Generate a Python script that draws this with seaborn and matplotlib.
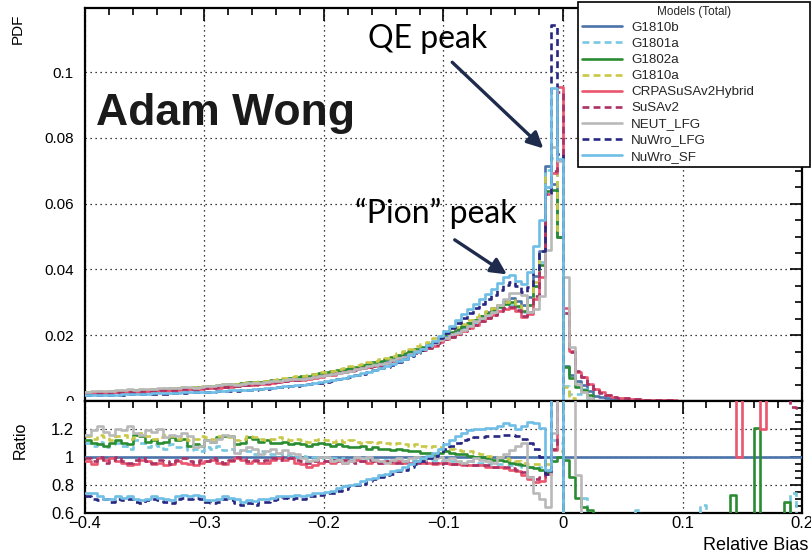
import numpy as np
import pandas as pd
import matplotlib
matplotlib.use("Agg")
import matplotlib.pyplot as plt
from matplotlib.lines import Line2D
from matplotlib.patches import Rectangle
from matplotlib.ticker import MultipleLocator, FixedLocator, FuncFormatter
import seaborn as sns

sns.set_theme(style="white")
plt.rcParams["font.family"] = ["Liberation Sans", "DejaVu Sans"]
plt.rcParams["axes.unicode_minus"] = True

# Histogram binning of the relative bias
BIAS_MIN, BIAS_MAX, BIN_WIDTH = -0.4, 0.2, 0.005

MODELS = ["G1810b", "G1801a", "G1802a", "G1810a", "CRPASuSAv2Hybrid",
          "SuSAv2", "NEUT_LFG", "NuWro_LFG", "NuWro_SF"]
COLORS = {"G1810b": "#4b73aa", "G1801a": "#78c8e1", "G1802a": "#2a8c32",
          "G1810a": "#c8c846", "CRPASuSAv2Hybrid": "#eb556e", "SuSAv2": "#aa3264",
          "NEUT_LFG": "#b9b9b9", "NuWro_LFG": "#282882", "NuWro_SF": "#6ebee6"}
DASHED = {"G1810b": False, "G1801a": True, "G1802a": False, "G1810a": True,
          "CRPASuSAv2Hybrid": False, "SuSAv2": True, "NEUT_LFG": False,
          "NuWro_LFG": True, "NuWro_SF": False}

# PDF of the reference model G1810b, one value per bin
pdf_G1810b = [
    0.00240, 0.00246, 0.00253, 0.00259, 0.00266, 0.00273, 0.00280, 0.00287, 0.00294, 0.00302,
    0.00310, 0.00318, 0.00326, 0.00335, 0.00343, 0.00352, 0.00361, 0.00370, 0.00380, 0.00390,
    0.00400, 0.00413, 0.00426, 0.00440, 0.00454, 0.00469, 0.00484, 0.00500, 0.00516, 0.00533,
    0.00550, 0.00571, 0.00593, 0.00615, 0.00639, 0.00663, 0.00688, 0.00715, 0.00742, 0.00770,
    0.00800, 0.00833, 0.00868, 0.00904, 0.00941, 0.00980, 0.01021, 0.01063, 0.01107, 0.01153,
    0.01200, 0.01260, 0.01323, 0.01389, 0.01458, 0.01531, 0.01607, 0.01687, 0.01771, 0.01859,
    0.01950, 0.02045, 0.02145, 0.02250, 0.02360, 0.02470, 0.02585, 0.02700, 0.02815, 0.02930,
    0.03050, 0.03120, 0.03050, 0.02920, 0.03150, 0.03800, 0.04550, 0.07160, 0.06600, 0.05000,
    0.01070, 0.00800, 0.00600, 0.00500, 0.00300, 0.00160, 0.00110, 0.00080, 0.00060, 0.00045,
    0.00035, 0.00028, 0.00022, 0.00018, 0.00015, 0.00012, 0.00010, 0.00009, 0.00008, 0.00007,
    0.00006, 0.00006, 0.00005, 0.00005, 0.00005, 0.00004, 0.00004, 0.00004, 0.00004, 0.00003,
    0.00003, 0.00003, 0.00003, 0.00003, 0.00002, 0.00002, 0.00002, 0.00002, 0.00002, 0.00002,
]

# Ratio of each model to G1810b, one value per bin
ratio_G1801a = [
    1.10, 1.08, 1.11, 1.07, 1.09, 1.10, 1.08, 1.06, 1.12, 1.10,
    1.07, 1.09, 1.08, 1.06, 1.09, 1.07, 1.08, 1.05, 1.06, 1.04,
    1.07, 1.06, 1.08, 1.05, 1.06, 1.03, 1.05, 1.04, 1.02, 1.04,
    1.03, 1.02, 1.03, 1.01, 1.02, 1.00, 1.01, 0.99, 1.00, 0.99,
    1.00, 0.99, 0.98, 0.99, 0.98, 0.99, 0.98, 0.99, 0.98, 0.97,
    0.98, 0.97, 0.98, 0.97, 0.97, 0.98, 0.97, 0.97, 0.98, 0.97,
    0.98, 0.97, 0.97, 0.96, 0.97, 0.96, 0.96, 0.95, 0.96, 0.95,
    0.95, 0.94, 0.94, 0.93, 0.93, 0.92, 0.93, 0.98, 1.12, 1.10,
    0.42, 0.25, 0.35, 0.71, 0.20, 0.00, 0.00, 0.00, 0.00, 0.00,
    0.00, 0.00, 0.62, 0.00, 0.00, 0.00, 0.00, 0.00, 0.00, 0.00,
    0.00, 0.00, 0.00, 0.66, 0.00, 0.00, 0.00, 0.00, 0.00, 0.00,
    0.00, 0.00, 0.00, 0.00, 0.00, 0.00, 0.00, 0.00, 0.74, 0.00,
]
ratio_G1802a = [
    1.12, 1.10, 1.09, 1.08, 1.10, 1.12, 1.10, 1.09, 1.16, 1.15,
    1.11, 1.12, 1.10, 1.11, 1.14, 1.12, 1.13, 1.08, 1.09, 1.08,
    1.12, 1.11, 1.14, 1.15, 1.15, 1.09, 1.10, 1.14, 1.13, 1.11,
    1.12, 1.10, 1.10, 1.11, 1.09, 1.10, 1.09, 1.08, 1.09, 1.10,
    1.09, 1.08, 1.09, 1.08, 1.07, 1.07, 1.08, 1.06, 1.07, 1.06,
    1.06, 1.05, 1.06, 1.05, 1.04, 1.04, 1.03, 1.03, 1.02, 1.03,
    1.04, 1.03, 1.02, 1.02, 1.01, 1.00, 1.00, 0.99, 0.98, 0.98,
    0.97, 0.96, 0.95, 0.94, 0.93, 0.92, 0.91, 0.89, 0.97, 1.00,
    0.98, 0.86, 0.71, 0.64, 0.62, 0.00, 0.00, 0.00, 0.00, 0.00,
    0.00, 0.00, 0.00, 0.00, 0.00, 0.00, 0.00, 0.00, 0.00, 0.00,
    0.00, 0.00, 0.00, 0.00, 0.00, 0.00, 0.00, 0.00, 0.73, 0.00,
    0.00, 0.00, 1.21, 0.00, 0.00, 0.00, 0.00, 0.68, 0.00, 0.00,
]
ratio_G1810a = [
    1.15, 1.13, 1.16, 1.14, 1.12, 1.15, 1.16, 1.13, 1.14, 1.17,
    1.15, 1.13, 1.14, 1.16, 1.15, 1.13, 1.14, 1.12, 1.13, 1.15,
    1.14, 1.13, 1.15, 1.16, 1.14, 1.12, 1.13, 1.15, 1.14, 1.13,
    1.12, 1.13, 1.14, 1.13, 1.12, 1.13, 1.12, 1.11, 1.12, 1.13,
    1.12, 1.11, 1.12, 1.11, 1.12, 1.11, 1.10, 1.11, 1.10, 1.11,
    1.10, 1.09, 1.10, 1.09, 1.08, 1.09, 1.08, 1.07, 1.08, 1.07,
    1.06, 1.06, 1.05, 1.04, 1.04, 1.03, 1.02, 1.01, 1.00, 1.00,
    0.99, 0.98, 0.97, 0.96, 0.95, 0.95, 0.95, 0.95, 1.06, 1.04,
    0.39, 0.12, 0.00, 0.00, 0.00, 0.00, 0.00, 0.00, 0.00, 0.00,
    0.00, 0.00, 0.00, 0.00, 0.00, 0.00, 0.00, 0.00, 0.00, 0.00,
    0.00, 0.00, 0.00, 0.00, 0.00, 0.00, 0.00, 0.00, 0.00, 0.00,
    0.00, 0.00, 0.00, 0.00, 0.00, 0.00, 0.00, 0.00, 0.00, 0.00,
]
ratio_CRPASuSAv2Hybrid = [
    0.97, 0.95, 0.99, 0.98, 0.99, 0.97, 0.96, 0.94, 0.95, 0.98,
    0.97, 0.95, 0.96, 0.94, 0.95, 0.97, 0.96, 0.95, 0.94, 0.96,
    0.97, 0.98, 0.96, 0.95, 0.97, 0.99, 0.98, 0.96, 0.97, 0.96,
    0.96, 0.98, 0.99, 0.98, 0.99, 0.96, 0.95, 0.93, 0.94, 0.96,
    0.97, 0.96, 0.97, 0.96, 0.97, 0.98, 0.97, 0.96, 0.97, 0.96,
    0.97, 0.96, 0.97, 0.96, 0.96, 0.97, 0.96, 0.96, 0.95, 0.96,
    0.96, 0.95, 0.95, 0.94, 0.94, 0.94, 0.94, 0.93, 0.93, 0.93,
    0.92, 0.91, 0.90, 0.87, 0.84, 0.82, 0.83, 0.88, 1.05, 1.91,
    2.64, 1.91, 1.45, 1.44, 1.73, 2.31, 2.36, 2.25, 2.17, 2.22,
    2.29, 2.14, 2.27, 2.22, 2.00, 2.08, 2.10, 2.05, 2.12, 2.02,
    2.06, 2.11, 2.04, 2.09, 2.02, 2.07, 2.13, 2.05, 2.10, 1.00,
    2.08, 2.04, 2.06, 1.20, 2.09, 2.03, 2.07, 2.01, 2.05, 2.02,
]
ratio_SuSAv2 = [
    0.99, 0.97, 1.00, 0.96, 0.98, 1.00, 0.97, 0.96, 0.98, 0.99,
    0.97, 0.96, 0.98, 0.97, 0.95, 0.98, 0.99, 0.97, 0.96, 0.98,
    0.97, 0.99, 0.98, 0.96, 0.98, 1.00, 0.99, 0.97, 0.98, 0.97,
    0.98, 0.99, 0.98, 1.00, 0.99, 0.98, 0.97, 0.96, 0.97, 0.98,
    0.97, 0.98, 0.97, 0.98, 0.97, 0.96, 0.97, 0.98, 0.97, 0.96,
    0.97, 0.97, 0.96, 0.97, 0.96, 0.96, 0.97, 0.96, 0.96, 0.95,
    0.96, 0.95, 0.95, 0.95, 0.94, 0.94, 0.94, 0.94, 0.93, 0.93,
    0.93, 0.92, 0.91, 0.89, 0.86, 0.84, 0.86, 0.91, 1.06, 1.88,
    2.50, 1.85, 1.50, 1.45, 1.70, 2.25, 2.30, 2.20, 2.15, 2.18,
    2.24, 2.10, 2.20, 2.15, 2.02, 2.05, 2.08, 2.03, 2.07, 2.00,
    2.04, 2.08, 2.02, 2.06, 2.01, 2.05, 2.09, 2.03, 2.06, 2.02,
    2.05, 2.01, 2.04, 2.03, 2.06, 2.02, 2.04, 2.01, 1.36, 1.35,
]
ratio_NEUT_LFG = [
    1.16, 1.19, 1.22, 1.18, 1.16, 1.20, 1.19, 1.22, 1.17, 1.16,
    1.19, 1.18, 1.20, 1.14, 1.16, 1.15, 1.17, 1.15, 1.07, 1.08,
    1.12, 1.11, 1.13, 1.16, 1.15, 1.03, 1.05, 1.07, 1.06, 1.02,
    1.04, 1.06, 1.03, 1.05, 1.03, 1.02, 0.99, 0.97, 0.98, 1.00,
    1.00, 0.97, 0.98, 0.96, 0.97, 1.00, 0.99, 1.00, 0.98, 0.97,
    0.96, 0.98, 0.99, 0.97, 0.99, 1.00, 0.98, 0.99, 0.99, 1.00,
    0.98, 0.99, 0.97, 0.96, 0.97, 0.99, 0.98, 0.97, 0.96, 1.00,
    1.02, 1.05, 1.08, 1.10, 0.86, 0.74, 0.70, 0.64, 1.17, 1.46,
    3.52, 2.04, 0.87, 0.52, 0.30, 0.00, 0.00, 0.00, 0.00, 0.00,
    0.00, 0.00, 0.00, 0.00, 0.00, 0.00, 0.00, 0.00, 0.00, 0.00,
    0.00, 0.00, 0.00, 0.00, 0.00, 0.00, 0.00, 0.00, 0.00, 0.00,
    0.00, 0.00, 0.00, 0.00, 0.00, 0.00, 0.00, 0.00, 0.00, 0.00,
]
ratio_NuWro_LFG = [
    0.72, 0.70, 0.69, 0.70, 0.68, 0.70, 0.69, 0.70, 0.68, 0.67,
    0.69, 0.70, 0.69, 0.68, 0.67, 0.70, 0.71, 0.70, 0.71, 0.70,
    0.68, 0.67, 0.68, 0.70, 0.69, 0.67, 0.66, 0.67, 0.66, 0.68,
    0.68, 0.69, 0.70, 0.71, 0.70, 0.71, 0.70, 0.72, 0.72, 0.73,
    0.74, 0.74, 0.76, 0.77, 0.79, 0.80, 0.81, 0.83, 0.84, 0.86,
    0.87, 0.88, 0.90, 0.91, 0.93, 0.95, 0.97, 0.99, 1.01, 1.03,
    1.06, 1.08, 1.10, 1.12, 1.13, 1.14, 1.14, 1.15, 1.15, 1.15,
    1.16, 1.16, 1.15, 1.13, 1.10, 1.06, 1.00, 0.88, 1.73, 1.50,
    0.00, 0.00, 0.00, 0.00, 0.00, 0.00, 0.00, 0.00, 0.00, 0.00,
    0.00, 0.00, 0.00, 0.00, 0.00, 0.00, 0.00, 0.00, 0.00, 0.00,
    0.00, 0.00, 0.00, 0.00, 0.00, 0.00, 0.00, 0.00, 0.00, 0.00,
    0.00, 0.00, 0.00, 0.00, 0.00, 0.00, 0.00, 0.00, 0.00, 0.00,
]
ratio_NuWro_SF = [
    0.74, 0.74, 0.72, 0.70, 0.70, 0.72, 0.71, 0.72, 0.70, 0.69,
    0.70, 0.72, 0.71, 0.70, 0.69, 0.72, 0.73, 0.72, 0.73, 0.72,
    0.69, 0.69, 0.70, 0.72, 0.71, 0.70, 0.68, 0.69, 0.685, 0.70,
    0.70, 0.71, 0.72, 0.72, 0.72, 0.73, 0.72, 0.73, 0.74, 0.74,
    0.75, 0.76, 0.78, 0.79, 0.80, 0.81, 0.83, 0.84, 0.85, 0.87,
    0.88, 0.90, 0.91, 0.93, 0.95, 0.97, 0.99, 1.01, 1.03, 1.06,
    1.09, 1.12, 1.15, 1.17, 1.19, 1.20, 1.20, 1.21, 1.21, 1.22,
    1.24, 1.23, 1.20, 1.22, 1.25, 1.24, 1.21, 0.91, 1.44, 1.47,
    0.00, 0.00, 0.00, 0.00, 0.00, 0.00, 0.00, 0.00, 0.00, 0.00,
    0.00, 0.00, 0.00, 0.00, 0.00, 0.00, 0.00, 0.00, 0.00, 0.00,
    0.00, 0.00, 0.00, 0.00, 0.00, 0.00, 0.00, 0.00, 0.00, 0.00,
    0.00, 0.00, 0.00, 0.00, 0.00, 0.00, 0.00, 0.00, 0.00, 0.00,
]

ratio_inputs = {
    "G1801a": ratio_G1801a, "G1802a": ratio_G1802a, "G1810a": ratio_G1810a,
    "CRPASuSAv2Hybrid": ratio_CRPASuSAv2Hybrid, "SuSAv2": ratio_SuSAv2,
    "NEUT_LFG": ratio_NEUT_LFG, "NuWro_LFG": ratio_NuWro_LFG, "NuWro_SF": ratio_NuWro_SF,
}

# Per-model PDFs and their ratio to the reference model
ref = np.array(pdf_G1810b)
pdf = {"G1810b": ref}
for name, r in ratio_inputs.items():
    pdf[name] = np.array(r) * ref
ratio = {name: np.divide(v, ref, out=np.zeros_like(v), where=ref > 0)
         for name, v in pdf.items()}

n_bins = len(ref)
edges = np.round(BIAS_MIN + BIN_WIDTH * np.arange(n_bins + 1), 4)


def long_frame(values):
    parts = []
    for name in MODELS:
        v = values[name]
        parts.append(pd.DataFrame({"bias": edges, "value": np.append(v, v[-1]), "model": name}))
    return pd.concat(parts, ignore_index=True)


pdf_df = long_frame(pdf)
ratio_df = long_frame(ratio)

LW = 1.9
DASH = (0, (2.6, 1.6))

W, H = 812, 556
fig = plt.figure(figsize=(W / 100, H / 100), dpi=100)
x0, x1 = 85, 802
y_top, y_mid, y_bot = 8, 401, 513
ax_top = fig.add_axes([x0 / W, 1 - y_mid / H, (x1 - x0) / W, (y_mid - y_top) / H])
ax_rat = fig.add_axes([x0 / W, 1 - y_bot / H, (x1 - x0) / W, (y_bot - y_mid) / H])
ax_rat.set_zorder(2)


def draw_steps(ax, frame):
    for k, name in enumerate(MODELS):
        sub = frame[frame["model"] == name]
        sns.lineplot(data=sub, x="bias", y="value", ax=ax, color=COLORS[name],
                     linewidth=LW, linestyle=DASH if DASHED[name] else "-",
                     drawstyle="steps-post", estimator=None, sort=False,
                     legend=False, zorder=3 + k)
    ax.set_xlabel("")
    ax.set_ylabel("")


draw_steps(ax_top, pdf_df)
draw_steps(ax_rat, ratio_df)


def num_fmt(v, _pos):
    if abs(v) < 1e-9:
        return "0"
    return f"{round(v, 6):g}".replace("-", "\u2212")


for ax in (ax_top, ax_rat):
    ax.set_xlim(BIAS_MIN, BIAS_MAX)
    ax.xaxis.set_major_locator(MultipleLocator(0.1))
    ax.xaxis.set_minor_locator(MultipleLocator(0.02))
    ax.tick_params(which="both", direction="in", top=True, right=True,
                   width=1.2, colors="black")
    ax.tick_params(which="major", length=9)
    ax.tick_params(which="minor", length=5)
    ax.grid(True, which="major", color="black", linestyle=(0, (1, 3)), linewidth=0.9)
    ax.set_axisbelow(True)
    for sp in ax.spines.values():
        sp.set_color("black")
        sp.set_linewidth(1.6)
    ax.set_facecolor("white")

ax_top.set_ylim(0, 0.1195)
ax_top.yaxis.set_major_locator(MultipleLocator(0.02))
ax_top.yaxis.set_minor_locator(MultipleLocator(0.005))
ax_top.yaxis.set_major_formatter(FuncFormatter(num_fmt))
ax_top.tick_params(axis="y", labelsize=11, pad=8)
ax_top.tick_params(axis="x", labelbottom=False)

ax_rat.set_ylim(0.6, 1.4)
ax_rat.yaxis.set_major_locator(FixedLocator([0.6, 0.8, 1.0, 1.2]))
ax_rat.yaxis.set_minor_locator(MultipleLocator(0.05))
ax_rat.yaxis.set_major_formatter(FuncFormatter(num_fmt))
ax_rat.xaxis.set_major_formatter(FuncFormatter(num_fmt))
ax_rat.tick_params(axis="y", labelsize=12, pad=8)
ax_rat.tick_params(axis="x", labelsize=12, pad=2)

# lower pad hides the bottom half of the upper pad's zero label
fig.add_artist(Rectangle((0, 0), x0 / W - 0.002, 1 - y_mid / H, transform=fig.transFigure,
                         facecolor="white", edgecolor="none", zorder=1))

fig.text(18 / W, 1 - 14 / H, "PDF", rotation=90, ha="center", va="top", fontsize=11, color="black")
fig.text(20 / W, 1 - 440 / H, "Ratio", rotation=90, ha="center", va="center", fontsize=11.5, color="black")
fig.text(808 / W, 1 - 546 / H, "Relative Bias", ha="right", va="center", fontsize=13, color="black")

# legend
handles = [Line2D([], [], color=COLORS[m], linewidth=LW,
                  linestyle=DASH if DASHED[m] else "-") for m in MODELS]
leg = ax_top.legend(handles, MODELS, title="Models (Total)", loc="upper left",
                    bbox_to_anchor=(578 / W, 1 - 168 / H, 232 / W, 166 / H),
                    bbox_transform=fig.transFigure, mode="expand",
                    fontsize=9.6, title_fontsize=8.5, frameon=True, fancybox=False,
                    framealpha=1, edgecolor="black", handlelength=3.0,
                    handletextpad=0.7, labelspacing=0.28, borderpad=0.3, borderaxespad=0)
leg.get_frame().set_linewidth(1.2)
leg.set_zorder(20)

# name printed across the upper pad
ax_top.text(0.0153, 0.702, "Adam Wong", transform=ax_top.transAxes, fontsize=32,
            fontweight="bold", color="#1a1a1a", ha="left", va="baseline",
            family=["Liberation Sans", "DejaVu Sans"], zorder=15)

# peak annotations
arrow_kw = dict(arrowstyle="-|>", color="#1e2b4c", lw=2.4, mutation_scale=24,
                shrinkA=0, shrinkB=0)
ax_top.annotate("", xy=(-0.0165, 0.0768), xytext=(-0.0927, 0.1030),
                arrowprops=arrow_kw, zorder=16)
ax_top.annotate("", xy=(-0.0470, 0.0385), xytext=(-0.0906, 0.0490),
                arrowprops=arrow_kw, zorder=16)
ax_top.text(0.3947, 0.898, "QE peak", transform=ax_top.transAxes, fontsize=23,
            family=["Lato", "DejaVu Sans"], ha="left", va="baseline", color="black", zorder=16)
ax_top.text(0.377, 0.453, "\u201cPion\u201d peak", transform=ax_top.transAxes, fontsize=23,
            family=["Lato", "DejaVu Sans"], ha="left", va="baseline", color="black", zorder=16)

fig.savefig("out.png", dpi=100, facecolor="white")
